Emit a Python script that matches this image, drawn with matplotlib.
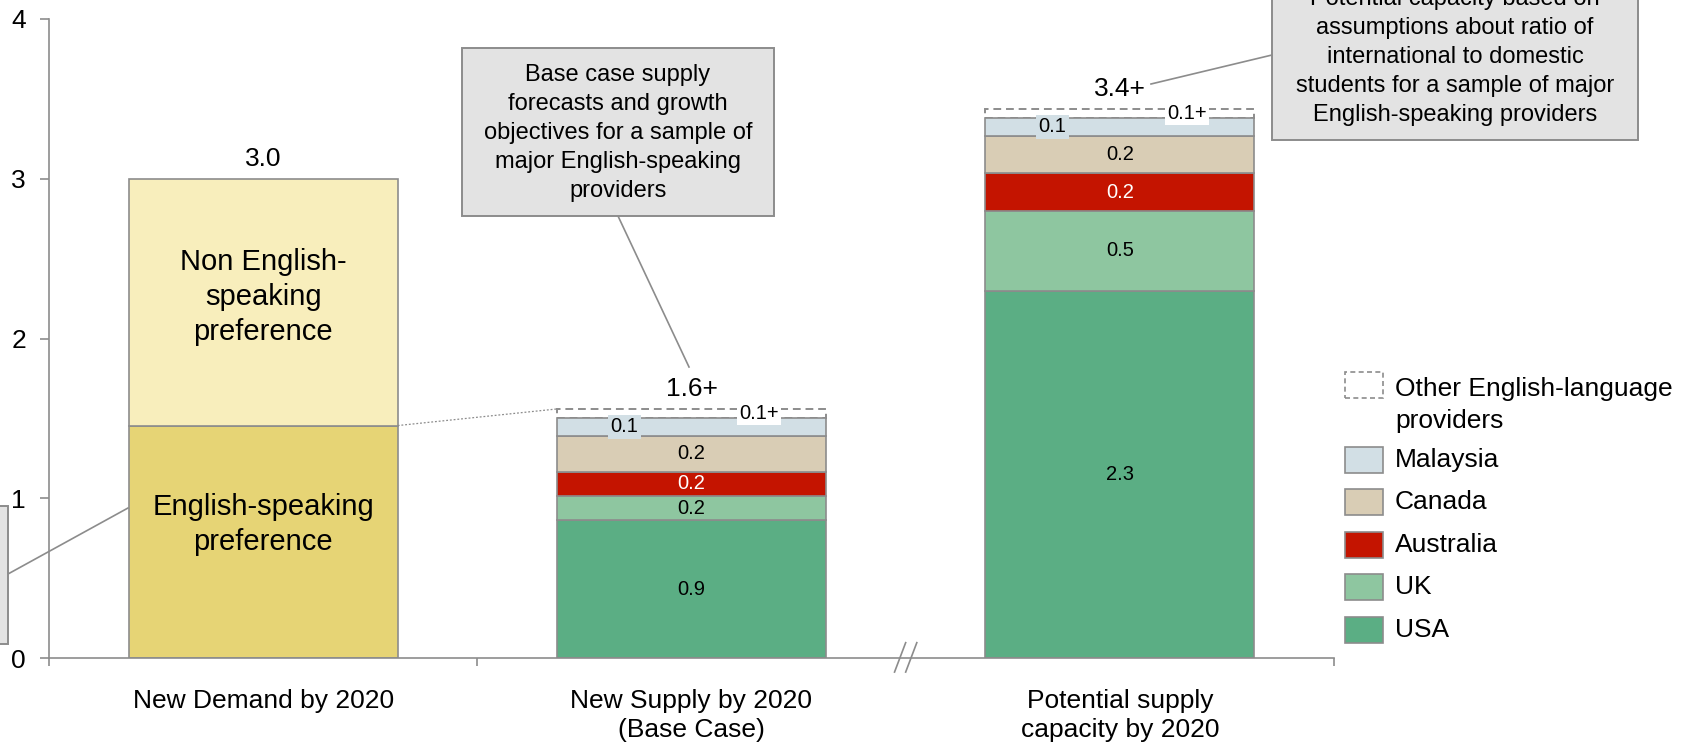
import matplotlib
matplotlib.use("Agg")
import matplotlib.pyplot as plt
from matplotlib.patches import Rectangle
from matplotlib.lines import Line2D
import matplotlib.transforms as mtransforms

plt.rcParams['font.family'] = ['Liberation Sans', 'DejaVu Sans']

# ---- data (millions of students) ----
categories = ["New Demand by 2020", "New Supply by 2020\n(Base Case)",
              "Potential supply\ncapacity by 2020"]
demand_labels = ["English-speaking\npreference", "Non English-\nspeaking\npreference"]
demand_values = [1.455, 1.545]
providers = ["USA", "UK", "Australia", "Canada", "Malaysia"]
base_case = [0.862, 0.152, 0.151, 0.225, 0.115]
potential = [2.298, 0.501, 0.236, 0.234, 0.111]
other_label = "Other English-language\nproviders"
other_values = [0.054, 0.056]   # base case, potential
yticks = [0, 1, 2, 3, 4]

# ---- styling ----
demand_colors = ["#E6D475", "#F8EEBC"]
provider_colors = ["#5BAE84", "#8EC6A0", "#C41400", "#D9CDB5", "#D2DFE5"]
provider_text = ["black", "black", "white", "black", "black"]
EDGE = "#8C8C8C"
BOXFILL = "#E3E3E3"
W, H = 1689, 745


def px(x, y):
    return (x / W, 1 - y / H)


fig = plt.figure(figsize=(W / 100, H / 100), dpi=100)
ax = fig.add_axes([49 / W, 1 - 658 / H, 1285 / W, (658 - 19) / H])
ax.set_xlim(-0.5, 2.5)
ax.set_ylim(0, 4)
bw = 0.628

# demand bar
bottom = 0
for val, col, lab, frac in zip(demand_values, demand_colors, demand_labels, [0.573, 0.522]):
    ax.bar(0, val, bw, bottom=bottom, color=col, edgecolor=EDGE, linewidth=1.2, zorder=2)
    ax.text(0, bottom + val * frac, lab, ha="center", va="center", fontsize=21,
            linespacing=1.31, zorder=4)
    bottom += val
demand_total = sum(demand_values)
ax.annotate(f"{demand_total:.1f}", (0, demand_total), xytext=(0, 14.5),
            textcoords="offset points", ha="center", va="center", fontsize=19)

# supply bars
for xi, vals, other in [(1, base_case, other_values[0]), (2, potential, other_values[1])]:
    bottom = 0
    for i, (val, col) in enumerate(zip(vals, provider_colors)):
        ax.bar(xi, val, bw, bottom=bottom, color=col, edgecolor=EDGE, linewidth=1.2, zorder=2)
        if providers[i] == "Malaysia":
            ax.text(xi - bw * 0.25, bottom + val / 2, f"{val:.1f}", ha="center", va="center",
                    fontsize=14.5, zorder=5,
                    bbox=dict(boxstyle="square,pad=0.12", fc=col, ec="none"))
        else:
            ax.text(xi, bottom + val / 2, f"{val:.1f}", ha="center", va="center",
                    fontsize=14.5, color=provider_text[i], zorder=4)
        bottom += val
    ax.bar(xi, other, bw, bottom=bottom, color="white", edgecolor=EDGE, linewidth=1.4,
           linestyle=(0, (4, 2.5)), zorder=1)
    ax.text(xi + bw * 0.25, bottom + other / 2, f"{other:.1f}+", ha="center", va="center",
            fontsize=14.5, zorder=5,
            bbox=dict(boxstyle="square,pad=0.12", fc="white", ec="none"))
    total = bottom + other
    ax.annotate(f"{total:.1f}+", (xi, total), xytext=(0, 14.5),
                textcoords="offset points", ha="center", va="center", fontsize=19)

# dotted link between English-speaking demand and base case supply
base_total = sum(base_case) + other_values[0]
ax.plot([bw / 2, 1 - bw / 2], [demand_values[0], base_total], ls=(0, (1.5, 1.5)),
        color=EDGE, lw=0.9, zorder=1)

# axes styling
for s in ["top", "right"]:
    ax.spines[s].set_visible(False)
for s in ["left", "bottom"]:
    ax.spines[s].set_color(EDGE)
    ax.spines[s].set_linewidth(1.2)
ax.set_yticks(yticks)
ax.set_yticklabels([str(t) for t in yticks])
ax.tick_params(axis="y", length=6.5, width=1.2, color=EDGE, pad=10, labelsize=19)
ax.set_xticks([0, 1, 2])
ax.set_xticklabels(categories, linespacing=1.3)
ax.tick_params(axis="x", which="major", length=0, pad=22, labelsize=19)
ax.set_xticks([-0.5, 0.5, 2.5], minor=True)
ax.tick_params(axis="x", which="minor", length=6, width=1.2, color=EDGE)

# axis break marks
bt = mtransforms.blended_transform_factory(ax.transData, ax.transAxes)
for dx in (-0.013, 0.013):
    ax.add_line(Line2D([1.5 + dx - 0.013, 1.5 + dx + 0.013], [-0.022, 0.024],
                       transform=bt, color=EDGE, lw=1.2, clip_on=False))


# callout boxes
def callout(x0, y0, x1, y1, text, tx, ty):
    (fx0, fy1), (fx1, fy0) = px(x0, y0), px(x1, y1)
    fig.patches.append(Rectangle((fx0, fy0), fx1 - fx0, fy1 - fy0, transform=fig.transFigure,
                                 fc=BOXFILL, ec=EDGE, lw=1.4, zorder=3))
    if text:
        fig.text(*px(tx, ty), text, ha="center", va="center", fontsize=17,
                 linespacing=1.42, zorder=4)


def connector(x0, y0, x1, y1):
    fig.add_artist(Line2D([x0 / W, x1 / W], [1 - y0 / H, 1 - y1 / H], transform=fig.transFigure,
                          color=EDGE, lw=1.2))


callout(-30, 506, 8, 644, None, 0, 0)
connector(8, 574, 128, 508)

callout(462, 48, 774, 216,
        "Base case supply\nforecasts and growth\nobjectives for a sample of\n"
        "major English-speaking\nproviders", 618, 133)
connector(618, 216, 689, 367)

callout(1272, -30, 1638, 140,
        "Potential capacity based on\nassumptions about ratio of\ninternational to domestic\n"
        "students for a sample of major\nEnglish-speaking providers", 1455, 57)
connector(1151, 84, 1272, 55)

# legend
legend_rows = [(other_label, None, 385)] + [
    (providers[i], provider_colors[i], yc) for i, yc in zip([4, 3, 2, 1, 0], [460, 502, 545, 587, 630])]
for lab, col, yc in legend_rows:
    fx, fy = px(1345, yc + 13)
    if col is None:
        fig.patches.append(Rectangle((fx, fy), 38 / W, 26 / H, transform=fig.transFigure,
                                     fc="white", ec=EDGE, lw=1.2, linestyle=(0, (3, 2))))
        fig.text(*px(1395, yc + 20), lab, ha="left", va="center", fontsize=19, linespacing=1.4)
    else:
        fig.patches.append(Rectangle((fx, fy), 38 / W, 26 / H, transform=fig.transFigure,
                                     fc=col, ec=EDGE, lw=1.2))
        fig.text(*px(1395, yc), lab, ha="left", va="center", fontsize=19)

fig.savefig("out.png", dpi=100)
